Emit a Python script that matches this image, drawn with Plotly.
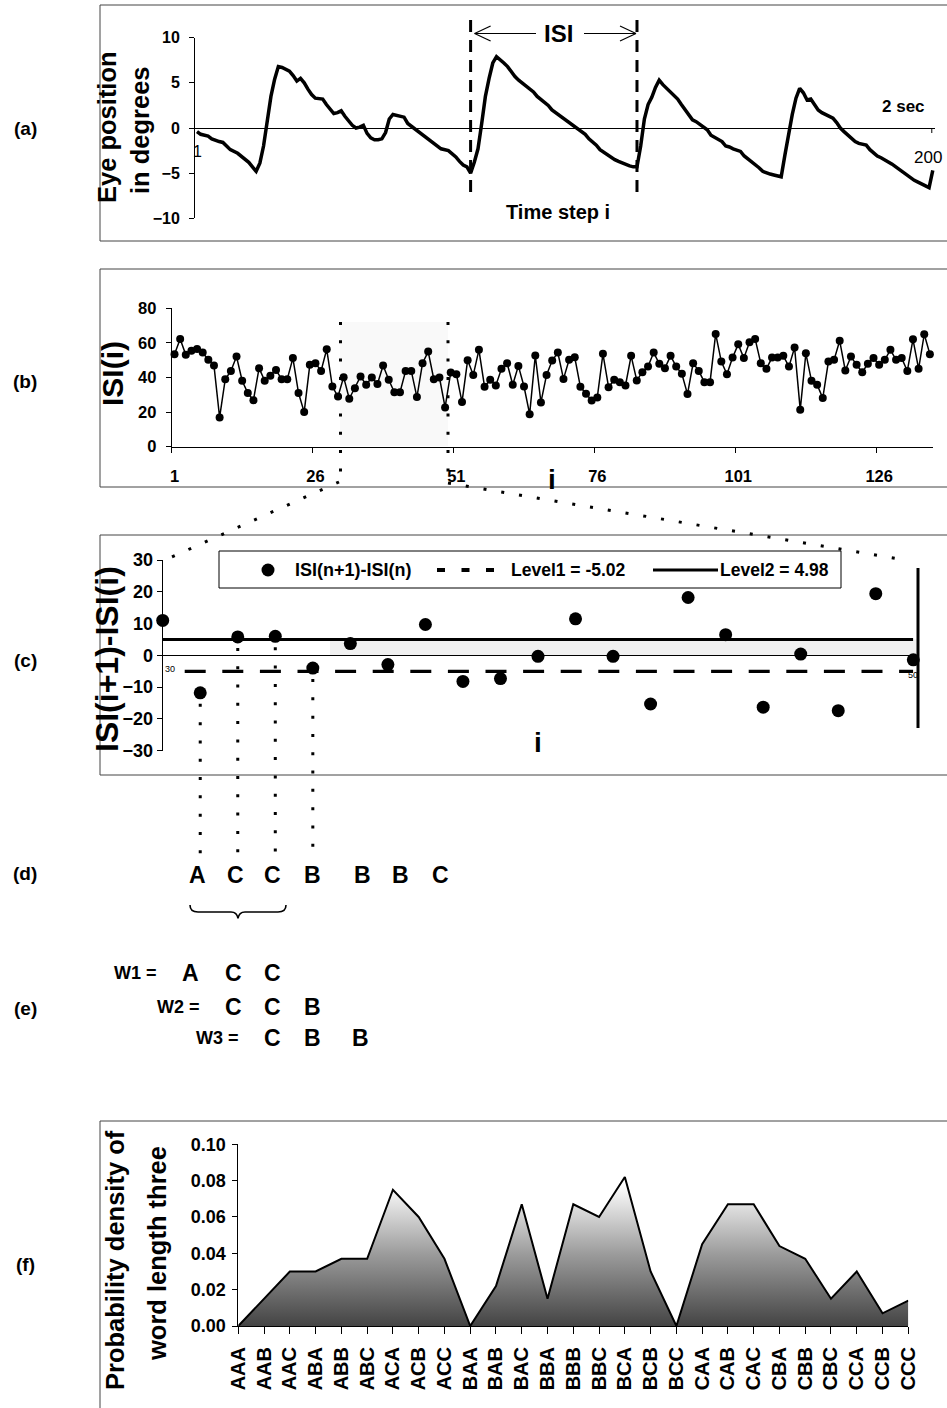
import plotly.graph_objects as go

W, H = 947, 1408
FONT = "Liberation Sans, Arial, Helvetica, sans-serif"

# ---------------- data ----------------
# (a) eye position (degrees) at time step i
eye_step = [1, 2, 4, 5, 7, 8, 9, 10, 12, 13, 15, 17, 18, 19, 20, 21, 22, 23, 24, 25,
            26, 27, 28, 29, 30, 31, 32, 33, 35, 36, 37, 38, 39, 40, 41, 42, 43, 44, 45, 46,
            47, 48, 49, 50, 51, 52, 53, 54, 55, 56, 57, 58, 59, 60, 61, 63, 65, 67, 69, 70,
            71, 72, 73, 74, 75] + list(range(76, 201))
eye_pos = [-0.4, -0.7, -0.9, -1.2, -1.5, -1.6, -2.0, -2.4, -2.8, -3.1,
           -3.8, -4.8, -3.9, -2.0, 0.8, 3.5, 5.4, 6.8, 6.7, 6.5,
           6.3, 5.8, 5.2, 5.5, 5.0, 4.3, 3.7, 3.3, 3.2, 2.6,
           2.1, 1.6, 1.7, 1.9, 1.3, 0.8, 0.3, 0.0, 0.1, 0.3,
           -0.6, -1.1, -1.3, -1.3, -1.2, -0.5, 1.0, 1.5, 1.4, 1.3,
           1.2, 0.5, 0.2, -0.2, -0.5, -1.1, -1.6, -2.3, -2.5, -2.8,
           -3.2, -3.7, -4.1, -4.3, -5.0,
           # 76..120
           -3.8, -2.3, 0.5, 3.5, 5.5, 7.2, 7.9, 7.6, 7.2, 6.8,
           6.2, 5.7, 5.3, 5.0, 4.6, 4.3, 4.0, 3.5, 3.2, 2.9,
           2.5, 2.0, 1.7, 1.4, 1.1, 0.8, 0.5, 0.2, -0.1, -0.3,
           -0.7, -1.2, -1.5, -1.9, -2.4, -2.7, -3.0, -3.3, -3.5, -3.7,
           -3.9, -4.1, -4.2, -4.3, -4.3,
           # 121..159
           -2.0, 1.0, 2.6, 3.4, 4.5, 5.3, 4.8, 4.4, 4.0, 3.7,
           3.2, 2.6, 2.0, 1.4, 0.9, 0.7, 0.4, 0.2, -0.2, -0.8,
           -1.0, -1.2, -1.5, -2.0, -2.1, -2.3, -2.5, -2.6, -3.1, -3.4,
           -3.7, -4.0, -4.4, -4.8, -5.0, -5.1, -5.2, -5.3, -5.4,
           # 160..200
           -3.0, -0.6, 1.5, 3.3, 4.4, 3.9, 3.1, 3.2, 2.6, 2.0,
           1.7, 1.5, 1.2, 1.1, 0.6, 0.0, -0.4, -0.8, -1.2, -1.5,
           -1.7, -1.8, -1.9, -2.4, -2.8, -3.1, -3.3, -3.5, -3.7, -4.0,
           -4.3, -4.6, -4.9, -5.3, -5.6, -5.8, -6.0, -6.2, -6.4, -6.6,
           -4.7]
isi_marks = [75, 120]          # time steps bounding one ISI

# (b) inter-saccade intervals ISI(i)
isi_index = list(range(1, 136))
isi_values = [53.5, 62.3, 53.1, 55.4, 56.5, 54.4, 50.2, 46.9, 16.9, 39.0,
              43.8, 52.1, 38.1, 31.0, 26.9, 45.4, 38.1, 41.0, 44.4, 39.0,
              39.0, 51.2, 31.0, 20.0, 47.3, 48.3, 43.8, 56.3, 34.8, 29.0,
              40.2, 27.7, 33.8, 40.6, 35.8, 40.0, 36.2, 46.9, 38.7, 31.5,
              31.5, 43.8, 43.8, 28.7, 48.3, 55.0, 39.0, 40.0, 22.7, 42.9,
              41.9, 25.8, 50.0, 41.5, 56.0, 34.6, 38.7, 35.4, 45.0, 48.3,
              35.8, 46.7, 34.8, 18.8, 52.7, 25.6, 41.5, 49.8, 54.4, 39.2,
              50.2, 51.7, 34.6, 30.6, 26.7, 28.5, 53.7, 34.4, 38.7, 37.3,
              35.4, 52.5, 38.3, 43.1, 46.3, 54.4, 47.9, 45.4, 52.5, 46.3,
              42.1, 30.4, 48.3, 43.8, 37.3, 37.3, 65.2, 49.2, 41.9, 51.5,
              59.2, 51.2, 60.4, 62.3, 48.3, 45.0, 51.5, 51.5, 52.5, 46.3,
              57.3, 21.3, 54.0, 38.1, 35.8, 28.1, 49.2, 50.2, 61.2, 44.0,
              52.1, 47.3, 43.1, 47.9, 51.2, 47.3, 50.2, 56.0, 50.2, 51.2,
              43.8, 62.1, 45.0, 65.0, 53.5]
isi_tick_labels = [1, 26, 51, 76, 101, 126]

# (c) successive differences ISI(i+1)-ISI(i), i = 30..50
diff_index = list(range(30, 51))
diff_values = [11.0, -11.8, 5.8, 6.0, -4.0, 3.7, -2.9, 9.7, -8.2, -7.3,
               -0.3, 11.5, -0.3, -15.3, 18.2, 6.5, -16.3, 0.4, -17.4, 19.4, -1.4]
level1 = -5.02
level2 = 4.98

# (f) probability density of words of length three
words = ["AAA", "AAB", "AAC", "ABA", "ABB", "ABC", "ACA", "ACB", "ACC",
         "BAA", "BAB", "BAC", "BBA", "BBB", "BBC", "BCA", "BCB", "BCC",
         "CAA", "CAB", "CAC", "CBA", "CBB", "CBC", "CCA", "CCB", "CCC"]
word_density = [0.000, 0.015, 0.030, 0.030, 0.037, 0.037, 0.075, 0.060, 0.037,
                0.000, 0.022, 0.067, 0.015, 0.067, 0.060, 0.082, 0.030, 0.000,
                0.045, 0.067, 0.067, 0.044, 0.037, 0.015, 0.030, 0.007, 0.014]

# symbols (d) for i = 31..37 and words (e)
def symbol(d):
    return "A" if d < level1 else ("C" if d > level2 else "B")

symbols = [symbol(d) for d in diff_values[1:8]]
word_rows = [symbols[k:k + 3] for k in range(3)]

# ---------------- helpers ----------------
def X(x):
    return x / W

def Y(y):
    return 1 - y / H

def lin(p0, p1, r0, r1):
    return lambda v: p0 + (v - r0) * (p1 - p0) / (r1 - r0)

# panel pixel geometry
A_X, A_Y, A_RX, A_RY = (195, 935), (218.3, 37.7), (0.46, 200.6), (-10, 10)
B_X, B_Y, B_RX, B_RY = (171.7, 932.7), (446.7, 308.3), (0.5, 135.5), (0, 80)
C_X, C_Y, C_RX, C_RY = (162.7, 913.3), (750.7, 560.0), (30, 50), (-30, 30)
F_X, F_Y, F_RX, F_RY = (238.3, 908.3), (1326.0, 1144.3), (0, 26), (0, 0.1)

ax_ = lin(A_X[0], A_X[1], *A_RX)
ay_ = lin(A_Y[0], A_Y[1], *A_RY)
cx_ = lin(C_X[0], C_X[1], *C_RX)
cy_ = lin(C_Y[0], C_Y[1], *C_RY)

def bold(size):
    return dict(family=FONT, size=size, color="black", weight="bold")

def txt(x, y, s, size, is_bold=True, angle=0, xanchor="center", yanchor="middle"):
    f = dict(family=FONT, size=size, color="black", weight="bold" if is_bold else "normal")
    return dict(x=X(x), y=Y(y), xref="paper", yref="paper", text=s, showarrow=False,
                font=f, textangle=angle, xanchor=xanchor, yanchor=yanchor)

def seg(x0, y0, x1, y1, width=1, dash="solid", color="black", layer="above"):
    return dict(type="line", xref="paper", yref="paper", x0=X(x0), y0=Y(y0), x1=X(x1), y1=Y(y1),
                line=dict(color=color, width=width, dash=dash), layer=layer)

def rect(x0, y0, x1, y1, line_color="#444", width=1, fill="rgba(0,0,0,0)", layer="below"):
    return dict(type="rect", xref="paper", yref="paper", x0=X(x0), y0=Y(y0), x1=X(x1), y1=Y(y1),
                line=dict(color=line_color, width=width), fillcolor=fill, layer=layer)

def P(x, y):
    return f"{X(x):.5f},{Y(y):.5f}"

DOTS = "3px,15px"

# ---------------- figure ----------------
fig = go.Figure()

fig.add_trace(go.Scatter(x=eye_step, y=eye_pos, mode="lines",
                         line=dict(color="black", width=3.5), xaxis="x", yaxis="y"))

fig.add_trace(go.Scatter(x=isi_index, y=isi_values, mode="lines+markers",
                         line=dict(color="black", width=1.5),
                         marker=dict(color="black", size=8), cliponaxis=False,
                         xaxis="x2", yaxis="y2"))

fig.add_trace(go.Scatter(x=[diff_index[0], diff_index[-1]], y=[level2, level2], mode="lines",
                         line=dict(color="black", width=3.2), xaxis="x3", yaxis="y3"))
lvl1_dash = "0px,22px," + ",".join(["21px,16.6px"] * 22)
fig.add_trace(go.Scatter(x=[diff_index[0], diff_index[-1]], y=[level1, level1], mode="lines",
                         line=dict(color="black", width=3.2, dash=lvl1_dash),
                         xaxis="x3", yaxis="y3"))
fig.add_trace(go.Scatter(x=diff_index, y=diff_values, mode="markers",
                         marker=dict(color="black", size=13), cliponaxis=False,
                         xaxis="x3", yaxis="y3"))

fig.add_trace(go.Scatter(x=words, y=word_density, mode="lines", fill="tozeroy",
                         line=dict(color="black", width=2),
                         fillgradient=dict(type="vertical", start=0, stop=0.078,
                                           colorscale=[[0, "#444444"], [0.5, "#9a9a9a"],
                                                       [1, "#ffffff"]]),
                         xaxis="x4", yaxis="y4"))

common_axis = dict(showgrid=False, automargin=False, linecolor="black", linewidth=1,
                   tickcolor="black", tickwidth=1)

layout = dict(
    width=W, height=H, margin=dict(l=0, r=0, t=0, b=0),
    paper_bgcolor="white", plot_bgcolor="rgba(0,0,0,0)", showlegend=False,
    font=dict(family=FONT, color="black"),
    # (a)
    xaxis=dict(domain=[X(A_X[0]), X(A_X[1])], range=list(A_RX), anchor="y",
               showline=False, showticklabels=False, ticks="", zeroline=False, **common_axis),
    yaxis=dict(domain=[Y(A_Y[0]), Y(A_Y[1])], range=list(A_RY), anchor="x",
               tickvals=[-10, -5, 0, 5, 10], ticks="outside", ticklen=5, showline=True,
               zeroline=True, zerolinecolor="black", zerolinewidth=1,
               tickfont=bold(16), ticklabelstandoff=6, **common_axis),
    # (b)
    xaxis2=dict(domain=[X(B_X[0]), X(B_X[1])], range=list(B_RX), anchor="y2",
                tickvals=isi_tick_labels, ticks="", showline=True, zeroline=False,
                tickfont=bold(16.5), ticklabelstandoff=14,
                minor=dict(tickvals=[v - 0.5 for v in isi_tick_labels], ticks="outside",
                           ticklen=5, tickcolor="black", tickwidth=1),
                **common_axis),
    yaxis2=dict(domain=[Y(B_Y[0]), Y(B_Y[1])], range=list(B_RY), anchor="x2",
                dtick=20, ticks="outside", ticklen=5, showline=True, zeroline=False,
                tickfont=bold(16.5), ticklabelstandoff=6, **common_axis),
    # (c)
    xaxis3=dict(domain=[X(C_X[0]), X(C_X[1])], range=list(C_RX), anchor="y3",
                showline=False, showticklabels=False, ticks="", zeroline=False, **common_axis),
    yaxis3=dict(domain=[Y(C_Y[0]), Y(C_Y[1])], range=list(C_RY), anchor="x3",
                dtick=10, ticks="outside", ticklen=5, showline=True,
                zeroline=True, zerolinecolor="black", zerolinewidth=1,
                tickfont=bold(18), ticklabelstandoff=0, **common_axis),
    # (f)
    xaxis4=dict(domain=[X(F_X[0]), X(F_X[1])], range=list(F_RX), anchor="y4", type="category",
                tickangle=-90, ticks="outside", ticklen=7, showline=True, zeroline=False,
                tickfont=bold(20), ticklabelstandoff=5, **common_axis),
    yaxis4=dict(domain=[Y(F_Y[0]), Y(F_Y[1])], range=list(F_RY), anchor="x4",
                dtick=0.02, tickformat=".2f", ticks="outside", ticklen=5, showline=True,
                zeroline=False, tickfont=bold(18), ticklabelstandoff=3, **common_axis),
)
fig.update_layout(**layout)

shapes = []
# panel frames
shapes += [rect(100, 5, 965, 241), rect(100, 269, 965, 487),
           rect(100, 535, 965, 775), rect(100, 1121, 965, 1425)]
# light zoom shading
shapes.append(rect(340, 322, 448, 446, line_color="rgba(0,0,0,0)", fill="rgba(0,0,0,0.025)"))
shapes.append(rect(330, cy_(level2), 918, cy_(0), line_color="rgba(0,0,0,0)",
                   fill="rgba(0,0,0,0.06)"))

# (a) ISI boundaries and arrow
for s in isi_marks:
    shapes.append(seg(ax_(s), 20, ax_(s), 194, width=3, dash="12px,8px"))
xl, xr, ya = ax_(isi_marks[0]) + 4, ax_(isi_marks[1]) - 1, 33.5
shapes += [seg(xl, ya, 536, ya, width=1.2), seg(584, ya, xr, ya, width=1.2),
           seg(xl, ya, xl + 16, ya - 7.5, width=1.2), seg(xl, ya, xl + 16, ya + 7.5, width=1.2),
           seg(xr, ya, xr - 16, ya - 7.5, width=1.2), seg(xr, ya, xr - 16, ya + 7.5, width=1.2)]
shapes.append(seg(ax_(200) - 1, ay_(0), ax_(200) - 1, ay_(0) + 5, width=1))

# (b) -> (c) zoom dotted lines
shapes += [seg(340.5, 322, 340.5, 486, width=3, dash="3px,15.3px"),
           seg(448, 322, 448, 486, width=3, dash="3px,15.3px"),
           seg(339, 482, 165, 560, width=3, dash=DOTS),
           seg(448, 483, 905, 560, width=3, dash=DOTS)]

# (c) right vertical bar
shapes.append(seg(918, 568, 918, 728, width=3))

# (c) -> (d) dotted drop lines
for k in range(1, 5):
    xi = cx_(diff_index[k])
    shapes.append(seg(xi, cy_(diff_values[k]) + 11, xi, 856, width=3, dash="3px,15.3px"))

# (c) legend
shapes.append(rect(219, 551, 841, 588, line_color="black", width=1, fill="white", layer="above"))
shapes.append(dict(type="circle", xref="paper", yref="paper", x0=X(261.5), x1=X(274.5),
                   y0=Y(576.5), y1=Y(563.5), fillcolor="black", line=dict(color="black", width=0)))
shapes.append(seg(437, 570, 503, 570, width=4, dash="8px,16.5px"))
shapes.append(seg(653, 570, 718, 570, width=3.2))

# (d) brace under first word
brace = ("M " + P(190, 905) + " Q " + P(190, 912) + " " + P(198, 912) + " L " + P(231, 912) +
         " Q " + P(237, 912) + " " + P(238, 918.5) + " Q " + P(239, 912) + " " + P(245, 912) +
         " L " + P(278, 912) + " Q " + P(286, 912) + " " + P(286, 905))
shapes.append(dict(type="path", xref="paper", yref="paper", path=brace,
                   line=dict(color="black", width=1.6)))

fig.update_layout(shapes=shapes)

ann = []
# panel letters
for lab, yy in [("(a)", 128), ("(b)", 382), ("(c)", 660), ("(d)", 873), ("(e)", 1008), ("(f)", 1264)]:
    ann.append(txt(25, yy, lab, 19))

# (a)
ann += [txt(107, 127, "Eye position", 25.5, angle=-90),
        txt(140, 130, "in degrees", 25.5, angle=-90),
        txt(558, 33, "ISI", 24),
        txt(558, 212, "Time step i", 20),
        txt(903, 107, "2 sec", 17),
        txt(ax_(eye_step[0]) + 1, 152, str(eye_step[0]), 16, is_bold=False),
        txt(ax_(eye_step[-1]) - 5, 157, str(eye_step[-1]), 17, is_bold=False)]

# (b)
ann += [txt(112, 374, "ISI(i)", 30, angle=-90),
        txt(552, 480, "i", 28)]

# (c)
ann += [txt(107, 659, "ISI(i+1)-ISI(i)", 32, angle=-90),
        txt(538, 742, "i", 28),
        txt(cx_(diff_index[0]) + 7, 669, str(diff_index[0]), 9, is_bold=False),
        txt(cx_(diff_index[-1]) + 0, 675, str(diff_index[-1]), 9, is_bold=False),
        txt(293, 570, "ISI(n+1)-ISI(n)", 18, xanchor="left"),
        txt(509, 570, f"Level1 = {level1}", 17.5, xanchor="left"),
        txt(718, 570, f"Level2 = {level2}", 17.5, xanchor="left")]

# (d) symbol sequence
d_pos = [197, 235, 272, 312, 362, 400, 440]
for s, xx in zip(symbols, d_pos):
    ann.append(txt(xx, 875, s, 23))

# (e) words
e_pos = [190, 233, 272, 312, 360]
e_rows_y = [973, 1007, 1038]
for k, (row, yy) in enumerate(zip(word_rows, e_rows_y)):
    ann.append(txt(e_pos[k] - 31, yy, f"W{k + 1} =", 18, xanchor="right"))
    for j, s in enumerate(row):
        ann.append(txt(e_pos[k + j], yy, s, 23))

# (f)
ann += [txt(115, 1260, "Probability density of", 25.5, angle=-90),
        txt(157, 1254, "word length three", 25.5, angle=-90)]

fig.update_layout(annotations=ann)

fig.write_html(
    "out.html",
    config={"displayModeBar": False},
    post_script=("document.body.style.margin='0px';document.body.style.padding='0px';"
                 "document.documentElement.style.overflow='hidden';"),
)
